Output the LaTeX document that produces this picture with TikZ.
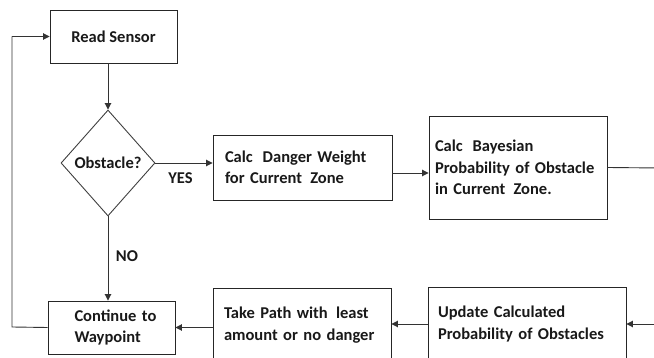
\documentclass[tikz,border=0pt]{standalone}
\usepackage{fontspec}
\setmainfont{Carlito}
\usetikzlibrary{shapes.geometric,arrows.meta}
\begin{document}
\begin{tikzpicture}[x=1pt,y=-1pt,
  every node/.style={font=\fontsize{16.5}{21.5}\selectfont\bfseries, text=black!90},
  box/.style={draw=black!85, line width=0.9pt, rectangle, inner sep=0pt, align=left},
  ln/.style={draw=black!80, line width=0.9pt},
  arr/.style={ln, -{Triangle[length=6.5pt,width=6.5pt]}},
  lbl/.style={inner sep=0pt}]
\clip (0,0) rectangle (654,358);
\fill[white] (0,0) rectangle (654,358);
% boxes
\node[box, minimum width=127pt, minimum height=53pt, align=center] (read) at (113.5,36.5) {Read Sensor};
\node[draw=black!75, line width=0.9pt, shape=diamond, inner sep=0pt, minimum width=94pt, minimum height=106pt] (dia) at (108,163) {Obstacle?};
\node[box, minimum width=179pt, minimum height=65pt, text width=155pt] (danger) at (302.5,167.5) {Calc\hspace{0.6em}Danger Weight\\for Current\hspace{0.5em}Zone};
\node[box, minimum width=178pt, minimum height=103pt, text width=166pt] (bayes) at (518,167.5) {Calc\hspace{0.6em}Bayesian\\Probability of Obstacle\\in Current\hspace{0.5em}Zone.};
\node[box, minimum width=198pt, minimum height=74pt, text width=178pt] (update) at (527,324) {Update Calculated\\Probability of Obstacles};
\node[box, minimum width=178pt, minimum height=74pt, text width=156pt] (take) at (302,325) {Take Path with\hspace{0.5em}least\\amount or no danger};
\node[box, minimum width=127pt, minimum height=53pt, text width=110pt] (cont) at (111.5,327.5) {\hspace*{18pt}Continue to\\\hspace*{18pt}Waypoint};
% free ends
\coordinate (outR) at (660,168);
\coordinate (inR) at (660,324);
\coordinate (lb) at (12,327);
\coordinate (lt) at (12,36.5);
% connectors
\draw[arr] (read.south -| dia.north) -- (dia.north);
\draw[arr] (dia.east) -- (dia.east -| danger.west);
\node[lbl] (yes) at (180.5,178) {YES};
\draw[arr] ([yshift=-5.5pt]danger.east) -- ([yshift=-5.5pt]danger.east -| bayes.west);
\draw[ln] (bayes.east) -- (outR);
\draw[arr] (inR) -- (update.east);
\draw[arr] (update.west) -- (update.west -| take.east);
\draw[arr] (cont.east -| take.west) -- (cont.east);
\draw[arr] (dia.south) -- (dia.south |- cont.north);
\node[lbl] (no) at (127,256) {NO};
\draw[ln] (cont.west) -- (lb) -- (lt);
\draw[arr] (lt) -- (read.west);
\end{tikzpicture}
\end{document}
